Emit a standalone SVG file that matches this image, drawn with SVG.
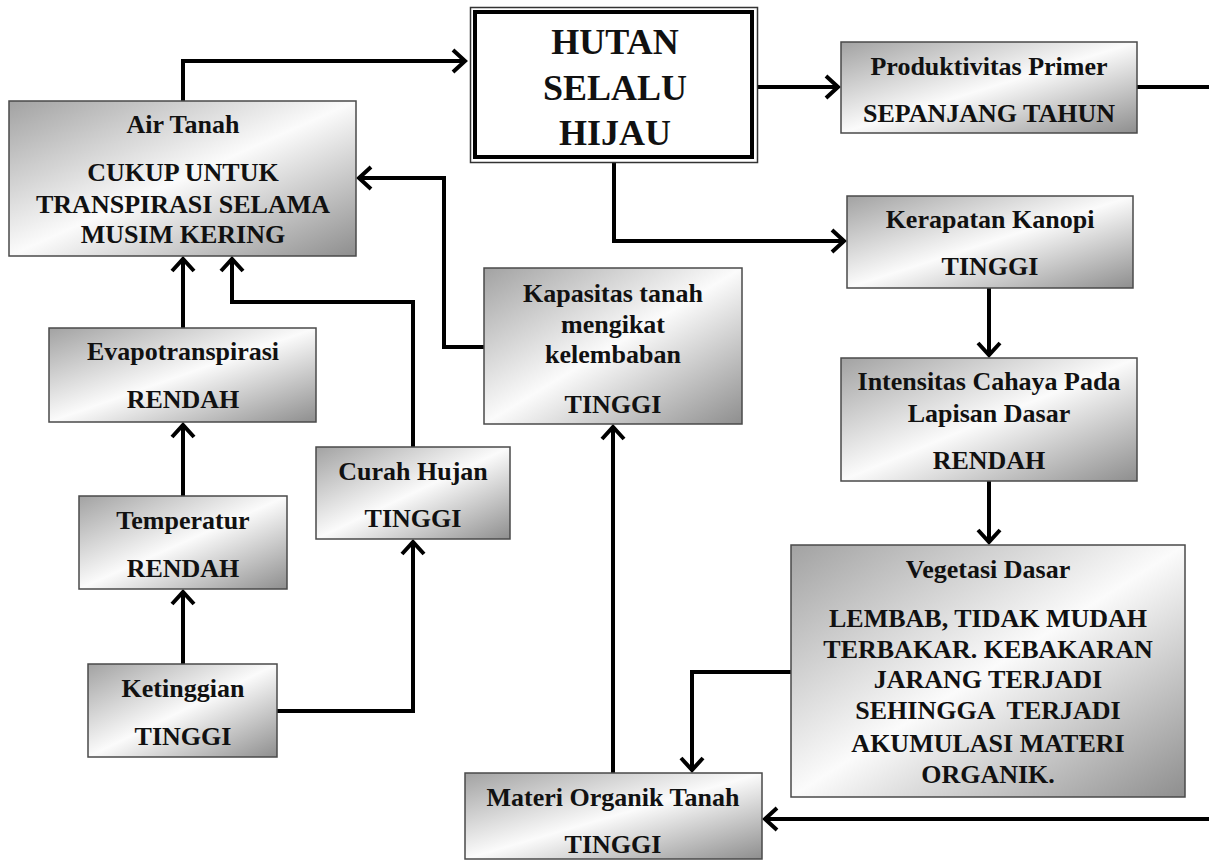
<svg xmlns="http://www.w3.org/2000/svg" width="1209" height="864" viewBox="0 0 1209 864">
<defs>
<linearGradient id="g" x1="0" y1="0" x2="1" y2="1">
<stop offset="0" stop-color="#a2a2a2"/>
<stop offset="0.5" stop-color="#fbfbfb"/>
<stop offset="1" stop-color="#8e8e8e"/>
</linearGradient>
<marker id="ah" markerUnits="userSpaceOnUse" markerWidth="30" markerHeight="30" viewBox="-15 -15 30 30" refX="0" refY="0" orient="auto" overflow="visible">
<path d="M-12,-11 L0,0 L-12,11" fill="none" stroke="#000" stroke-width="4" stroke-linejoin="miter"/>
</marker>
<style>
.box{fill:url(#g);stroke:#4a4a4a;stroke-width:1.5}
.t{font-family:"Liberation Serif","Times New Roman",serif;font-weight:bold;font-size:26px;fill:#111;text-anchor:middle}
.big{font-size:36px}
.c{fill:none;stroke:#000;stroke-width:4;stroke-linejoin:miter}
.ca{fill:none;stroke:#000;stroke-width:4;stroke-linejoin:miter;marker-end:url(#ah)}
</style>
</defs>
<rect width="1209" height="864" fill="#fff"/>

<g id="connectors">
<path class="ca" d="M183,101 V61 H465"/>
<path class="ca" d="M758,87 H838"/>
<path class="c" d="M1137,87 H1209"/>
<path class="ca" d="M614,163 V241 H844"/>
<path class="ca" d="M989,288 V355"/>
<path class="ca" d="M989,481 V542"/>
<path class="ca" d="M183,328 V259"/>
<path class="ca" d="M413,447 V302 H232 V259"/>
<path class="ca" d="M484,347 H444 V178 H359"/>
<path class="ca" d="M183,496 V425"/>
<path class="ca" d="M183,664 V592"/>
<path class="ca" d="M277,711 H413 V542"/>
<path class="ca" d="M613,773 V427"/>
<path class="ca" d="M791,672 H692 V770"/>
<path class="ca" d="M1209,819 H765"/>
</g>

<g id="hutan">
<rect x="470.5" y="7.5" width="287" height="155" fill="#fff" stroke="#333" stroke-width="1.5"/>
<rect x="475" y="12" width="277" height="145" fill="none" stroke="#000" stroke-width="4"/>
<text class="t big" x="615" y="54">HUTAN</text>
<text class="t big" x="615" y="100">SELALU</text>
<text class="t big" x="615" y="145">HIJAU</text>
</g>

<g id="produktivitas">
<rect class="box" x="841" y="42" width="296" height="91"/>
<text class="t" x="989" y="75">Produktivitas Primer</text>
<text class="t" x="989" y="122">SEPANJANG TAHUN</text>
</g>

<g id="kerapatan">
<rect class="box" x="847" y="196" width="286" height="92"/>
<text class="t" x="990" y="228">Kerapatan Kanopi</text>
<text class="t" x="990" y="275">TINGGI</text>
</g>

<g id="intensitas">
<rect class="box" x="841" y="358" width="296" height="123"/>
<text class="t" x="989" y="390">Intensitas Cahaya Pada</text>
<text class="t" x="989" y="422">Lapisan Dasar</text>
<text class="t" x="989" y="469">RENDAH</text>
</g>

<g id="vegetasi">
<rect class="box" x="791" y="545" width="394" height="252"/>
<text class="t" x="988" y="578">Vegetasi Dasar</text>
<text class="t" x="988" y="627">LEMBAB, TIDAK MUDAH</text>
<text class="t" x="988" y="658">TERBAKAR. KEBAKARAN</text>
<text class="t" x="988" y="688">JARANG TERJADI</text>
<text class="t" x="988" y="719" xml:space="preserve">SEHINGGA  TERJADI</text>
<text class="t" x="988" y="752">AKUMULASI MATERI</text>
<text class="t" x="988" y="783">ORGANIK.</text>
</g>

<g id="materi">
<rect class="box" x="465" y="773" width="297" height="86"/>
<text class="t" x="613" y="806">Materi Organik Tanah</text>
<text class="t" x="613" y="853">TINGGI</text>
</g>

<g id="kapasitas">
<rect class="box" x="484" y="268" width="258" height="156"/>
<text class="t" x="613" y="302">Kapasitas tanah</text>
<text class="t" x="613" y="333">mengikat</text>
<text class="t" x="613" y="363">kelembaban</text>
<text class="t" x="613" y="413">TINGGI</text>
</g>

<g id="airtanah">
<rect class="box" x="9" y="101" width="347" height="155"/>
<text class="t" x="183" y="133">Air Tanah</text>
<text class="t" x="183" y="181">CUKUP UNTUK</text>
<text class="t" x="183" y="213">TRANSPIRASI SELAMA</text>
<text class="t" x="183" y="243">MUSIM KERING</text>
</g>

<g id="evapotranspirasi">
<rect class="box" x="49" y="328" width="267" height="94"/>
<text class="t" x="183" y="360">Evapotranspirasi</text>
<text class="t" x="183" y="408">RENDAH</text>
</g>

<g id="curahhujan">
<rect class="box" x="316" y="447" width="194" height="92"/>
<text class="t" x="413" y="480">Curah Hujan</text>
<text class="t" x="413" y="527">TINGGI</text>
</g>

<g id="temperatur">
<rect class="box" x="79" y="496" width="208" height="93"/>
<text class="t" x="183" y="529">Temperatur</text>
<text class="t" x="183" y="577">RENDAH</text>
</g>

<g id="ketinggian">
<rect class="box" x="88" y="664" width="189" height="93"/>
<text class="t" x="183" y="697">Ketinggian</text>
<text class="t" x="183" y="745">TINGGI</text>
</g>
</svg>
